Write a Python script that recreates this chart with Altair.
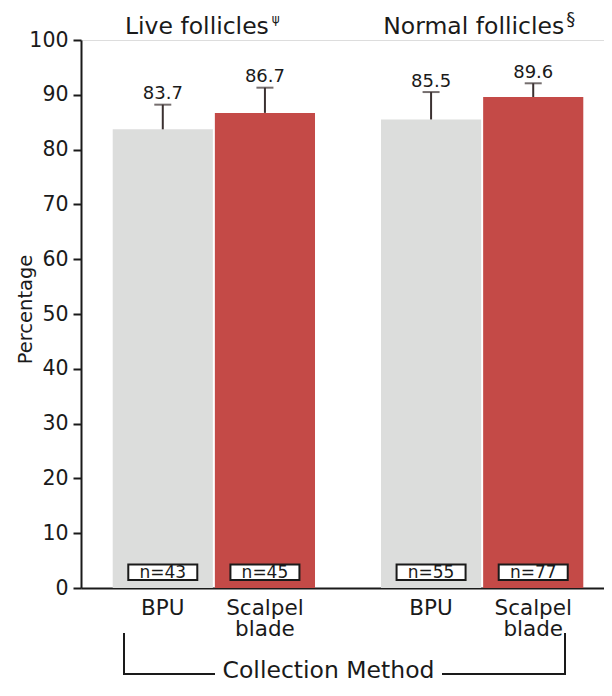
import altair as alt
import pandas as pd

# ---- data ----
groups = ["Live follicles", "Live follicles", "Normal follicles", "Normal follicles"]
methods = ["BPU", "Scalpel blade", "BPU", "Scalpel blade"]
means = [83.7, 86.7, 85.5, 89.6]
errors = [4.5, 4.6, 5.0, 2.5]
value_labels = ["83.7", "86.7", "85.5", "89.6"]
n_labels = ["n=43", "n=45", "n=55", "n=77"]
cat_labels = [["BPU"], ["Scalpel", "blade"], ["BPU"], ["Scalpel", "blade"]]
y_ticks = list(range(0, 101, 10))

df = pd.DataFrame({
    "group": groups,
    "method": methods,
    "mean": means,
    "upper": [m + e for m, e in zip(means, errors)],
    "vlabel": value_labels,
    "nlabel": n_labels,
    "clabel": cat_labels,
})

W, H = 523, 548
FONT = "DejaVu Sans"
INK = "#1a1a1a"
ERR = "#3b3131"

x_enc = alt.X("group:N", sort=["Live follicles", "Normal follicles"],
              scale=alt.Scale(paddingInner=0.246, paddingOuter=0.0977, align=0.605),
              axis=alt.Axis(labels=False, ticks=False, title=None, domainWidth=2,
                            domainColor=INK, grid=False))
xo_enc = alt.XOffset("method:N", sort=["BPU", "Scalpel blade"],
                     scale=alt.Scale(paddingInner=0.0196))
y_scale = alt.Scale(domain=[0, 100], nice=False)

base = alt.Chart(df)

bars = base.mark_bar().encode(
    x=x_enc, xOffset=xo_enc,
    y=alt.Y("mean:Q", scale=y_scale,
            axis=alt.Axis(values=y_ticks, tickSize=8, tickWidth=2, domainWidth=2,
                          tickColor=INK, domainColor=INK, labelColor=INK,
                          labelFontSize=20.5, labelPadding=5, labelFont=FONT,
                          grid=False, title="Percentage", titleFont=FONT,
                          titleFontSize=19.5, titleFontWeight="normal", titleColor=INK,
                          titleX=-56, titleY=269, titleBaseline="middle")),
    color=alt.Color("method:N", scale=alt.Scale(domain=["BPU", "Scalpel blade"],
                                                range=["#dcdddc", "#c44a47"]),
                    legend=None),
)

err_rule = base.mark_rule(strokeWidth=2, color=ERR).encode(
    x=x_enc, xOffset=xo_enc, y=alt.Y("mean:Q", scale=y_scale), y2="upper:Q")

err_cap = base.mark_tick(size=17, thickness=2, color=ERR).encode(
    x=x_enc, xOffset=xo_enc, y=alt.Y("upper:Q", scale=y_scale))

val_text = base.mark_text(baseline="alphabetic", dy=-5.5, fontSize=18, font=FONT,
                          color=INK).encode(
    x=x_enc, xOffset=xo_enc, y=alt.Y("upper:Q", scale=y_scale), text="vlabel:N")

n_box = base.mark_bar(width=69, fill="white", stroke=INK, strokeWidth=2).encode(
    x=x_enc, xOffset=xo_enc, y=alt.value(H - 23.5), y2=alt.value(H - 8))

n_text = base.mark_text(baseline="middle", fontSize=17, font=FONT, color=INK).encode(
    x=x_enc, xOffset=xo_enc, y=alt.value(H - 15.5), text="nlabel:N")

cat_text = base.mark_text(baseline="alphabetic", fontSize=21.5, font=FONT, color=INK,
                          lineHeight=21).encode(
    x=x_enc, xOffset=xo_enc, y=alt.value(H + 27), text="clabel")

# group titles with superscripts
titles = []
title_specs = [
    ("Live follicles", "Live follicles", "\u03c8", 55, 58, 12, -17),
    ("Normal follicles", "Normal follicles", "\u00a7", 82, 84, 18, -15),
]
for grp, main, sup, dx_main, dx_sup, sup_size, y_sup in title_specs:
    sub = base.transform_filter(alt.datum.group == grp).transform_filter(
        alt.datum.method == "BPU")
    titles.append(sub.mark_text(align="right", baseline="alphabetic", dx=dx_main,
                                fontSize=23.5, font=FONT, color=INK).encode(
        x=x_enc, y=alt.value(-6), text=alt.value(main)))
    titles.append(sub.mark_text(align="left", baseline="alphabetic", dx=dx_sup,
                                fontSize=sup_size, font=FONT, color=INK).encode(
        x=x_enc, y=alt.value(y_sup), text=alt.value(sup)))

# bracket under the x axis with "Collection Method"
one = alt.Data(values=[{"k": 1}])
bx_left, bx_right, b_top, b_bot = 43, 484, 593, 634
brk = [
    alt.Chart(one).mark_rule(strokeWidth=2, color=INK).encode(
        x=alt.value(bx_left), y=alt.value(b_top), y2=alt.value(b_bot + 1)),
    alt.Chart(one).mark_rule(strokeWidth=2, color=INK).encode(
        x=alt.value(bx_right), y=alt.value(b_top), y2=alt.value(b_bot + 1)),
    alt.Chart(one).mark_rule(strokeWidth=2, color=INK).encode(
        x=alt.value(bx_left), x2=alt.value(134), y=alt.value(b_bot)),
    alt.Chart(one).mark_rule(strokeWidth=2, color=INK).encode(
        x=alt.value(361), x2=alt.value(bx_right), y=alt.value(b_bot)),
    alt.Chart(one).mark_text(fontSize=23.5, font=FONT, color=INK, baseline="alphabetic").encode(
        x=alt.value(247.5), y=alt.value(638),
        text=alt.value("Collection Method")),
]

chart = alt.layer(bars, err_rule, err_cap, val_text, n_box, n_text, cat_text,
                  *titles, *brk).properties(
    width=W, height=H,
    autosize=alt.AutoSizeParams(type="none"),
    padding={"left": 73, "top": 32, "right": 0, "bottom": 96},
).configure_view(stroke=None).configure(background="white")

chart.save("out.html", embed_options={"renderer": "svg", "actions": False})
